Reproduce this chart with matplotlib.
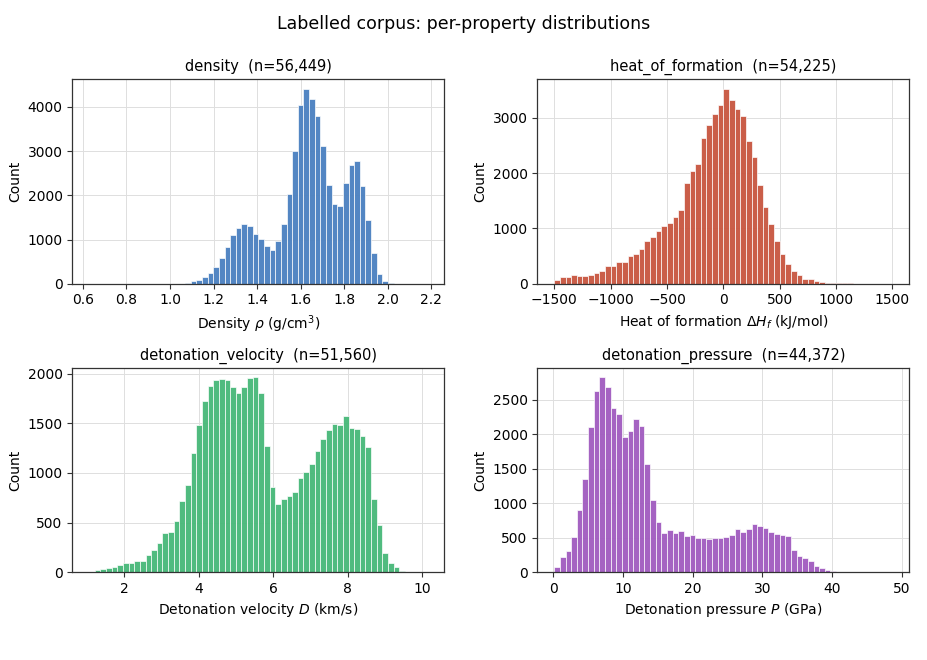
import numpy as np
import matplotlib
matplotlib.use("Agg")
import matplotlib.pyplot as plt
from matplotlib.ticker import MultipleLocator

# ---------------- data ----------------
density_range = (0.629, 2.182)
density_counts = [0, 0, 0, 0, 0, 0, 0, 0, 0, 0, 0, 0, 0, 1, 2, 3, 6, 15, 60, 90,
                  143, 250, 390, 590, 830, 1095, 1260, 1343, 1298, 1117,
                  1004, 853, 755, 966, 1358, 2030, 2996, 4038, 4408, 4189,
                  3796, 3109, 2242, 1811, 1751, 2287, 2694, 2770, 2211, 1434,
                  702, 226, 53, 10, 4, 2, 1, 1, 0, 1]

heat_range = (-1500, 1500)
heat_counts = [66, 114, 120, 150, 139, 139, 163, 187, 223, 319,
               325, 386, 392, 500, 542, 633, 777, 849, 958, 1054,
               1108, 1199, 1343, 1825, 2042, 2175, 2645, 2880, 3078, 3241,
               3524, 3331, 3169, 3030, 2590, 2289, 1783, 1380, 1090, 771,
               530, 355, 229, 151, 90, 84, 48, 30, 18, 12,
               8, 6, 5, 4, 3, 3, 2, 2, 1, 1]

velocity_range = (1.06, 10.14)
velocity_counts = [3, 20, 30, 40, 54, 74, 88, 94, 114, 118,
                   175, 222, 296, 397, 401, 519, 714, 875, 1202, 1488,
                   1724, 1879, 1936, 1949, 1936, 1869, 1808, 1865, 1953, 1963,
                   1801, 1269, 855, 690, 737, 764, 805, 949, 1007, 1094,
                   1219, 1347, 1431, 1495, 1481, 1569, 1455, 1448, 1370, 1259,
                   737, 478, 192, 91, 57, 17, 6, 3, 2, 1]

pressure_range = (0.15, 48.7)
pressure_counts = [73, 227, 309, 513, 895, 1349, 2099, 2621, 2824, 2689,
                   2379, 2297, 1963, 2041, 2215, 2118, 1567, 1049, 730, 566,
                   619, 566, 600, 532, 546, 503, 503, 484, 503, 493,
                   508, 542, 624, 585, 629, 696, 672, 638, 580, 556,
                   537, 532, 329, 237, 213, 164, 97, 58, 39, 19,
                   10, 6, 4, 3, 2, 2, 1, 1, 1, 1]

titles = ["density  (n=56,449)", "heat_of_formation  (n=54,225)",
          "detonation_velocity  (n=51,560)", "detonation_pressure  (n=44,372)"]
xlabels = [r"Density $\rho$ (g/cm$^3$)", r"Heat of formation $\Delta H_f$ (kJ/mol)",
           r"Detonation velocity $D$ (km/s)", r"Detonation pressure $P$ (GPa)"]
xtick_steps = [0.2, 500, 2, 10]
colors = ["#4a80c0", "#c8553f", "#46b878", "#a05bbf"]

panels = [(density_range, density_counts),
          (heat_range, heat_counts),
          (velocity_range, velocity_counts),
          (pressure_range, pressure_counts)]

# ---------------- figure ----------------
plt.rcParams["font.family"] = ["DejaVu Sans"]
plt.rcParams["font.size"] = 10

fig, axes = plt.subplots(2, 2, figsize=(9.27, 6.6), dpi=100)
fig.subplots_adjust(left=0.078, right=0.981, top=0.880, bottom=0.133,
                    wspace=0.25, hspace=0.41)

for ax, (rng, counts), title, xl, col, step in zip(axes.flat, panels, titles,
                                                   xlabels, colors, xtick_steps):
    counts = np.asarray(counts, dtype=float)
    edges = np.linspace(rng[0], rng[1], len(counts) + 1)
    ax.bar(edges[:-1], counts, width=np.diff(edges), align="edge",
           color=col, edgecolor="white", linewidth=0.5, alpha=0.95, zorder=2)
    ax.xaxis.set_major_locator(MultipleLocator(step))
    ax.set_title(title, fontsize=10.5, pad=6)
    ax.set_xlabel(xl, fontsize=10)
    ax.set_ylabel("Count", fontsize=10)
    ax.tick_params(labelsize=10, length=3.5, width=0.8, color="#333333")
    ax.grid(True, color="#dedede", linewidth=0.7, zorder=0)
    ax.set_axisbelow(True)
    for s in ax.spines.values():
        s.set_color("#333333")
        s.set_linewidth(0.9)

fig.suptitle("Labelled corpus: per-property distributions", fontsize=12.5, y=0.978)

fig.savefig("out.png", dpi=100, facecolor="white")
